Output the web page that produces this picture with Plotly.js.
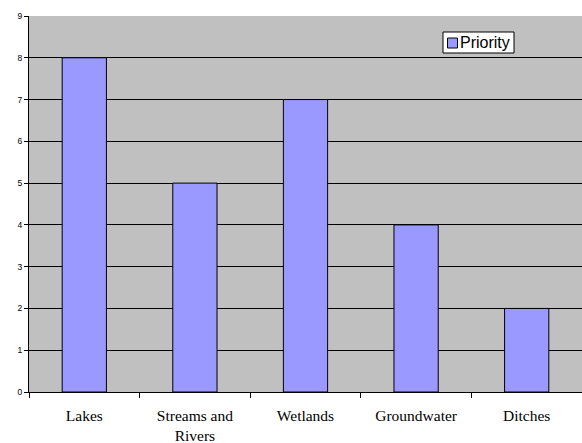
<!DOCTYPE html>
<html>
<head>
<meta charset="utf-8">
<script src="https://cdn.plot.ly/plotly-3.0.1.min.js"></script>
<style>html,body{margin:0;padding:0;background:#fff;}#chart{width:582px;height:443px;}</style>
</head>
<body>
<div id="chart"></div>
<script>
const categories = ["Lakes", "Streams and<br>Rivers", "Wetlands", "Groundwater", "Ditches"];
const priority = [8, 5, 7, 4, 2];
const seriesName = "Priority";
const yTicks = [0, 1, 2, 3, 4, 5, 6, 7, 8, 9];
const barColor = "#9999FF";

// plot area in pixels: left 29, right 582, top 16, bottom 392
const px = v => (v - 29) / 553;
const py = v => (392 - v) / 376;

Plotly.newPlot("chart", [{
  type: "bar",
  x: categories,
  y: priority,
  name: seriesName,
  marker: {color: barColor, line: {color: "#000000", width: 1}},
  showlegend: false
}], {
  width: 582, height: 443,
  margin: {l: 29, r: 0, t: 16, b: 51, pad: 0},
  paper_bgcolor: "#FFFFFF",
  plot_bgcolor: "#C0C0C0",
  bargap: 0.6,
  showlegend: false,
  shapes: [
    {type: "rect", xref: "paper", yref: "paper", x0: px(443), x1: px(514), y0: py(53), y1: py(32),
     fillcolor: "#FFFFFF", line: {color: "#000", width: 1}, layer: "above"},
    {type: "rect", xref: "paper", yref: "paper", x0: px(447.5), x1: px(457.5), y0: py(48), y1: py(38),
     fillcolor: barColor, line: {color: "#000", width: 1}, layer: "above"}
  ],
  annotations: [
    {xref: "paper", yref: "paper", x: px(458), y: py(42.5), xanchor: "left", yanchor: "middle",
     text: seriesName, showarrow: false,
     font: {family: "Liberation Sans, Arial, sans-serif", size: 16, color: "#000"}}
  ],
  xaxis: {
    type: "category",
    showline: true, linecolor: "#000", linewidth: 1,
    ticks: "outside", tickson: "boundaries", ticklen: 5, tickcolor: "#000",
    ticklabelstandoff: 9,
    tickfont: {family: "Liberation Serif, Times New Roman, serif", size: 15.5, color: "#000"},
    showgrid: false, zeroline: false, fixedrange: true
  },
  yaxis: {
    range: [0, 9],
    tickvals: yTicks,
    showline: true, linecolor: "#000", linewidth: 1,
    ticks: "outside", ticklen: 4, tickcolor: "#000",
    tickfont: {family: "Liberation Sans, Arial, sans-serif", size: 8.5, color: "#000"},
    showgrid: true, gridcolor: "#000", gridwidth: 1,
    zeroline: false, fixedrange: true
  }
}, {displayModeBar: false, staticPlot: true});
</script>
</body>
</html>
